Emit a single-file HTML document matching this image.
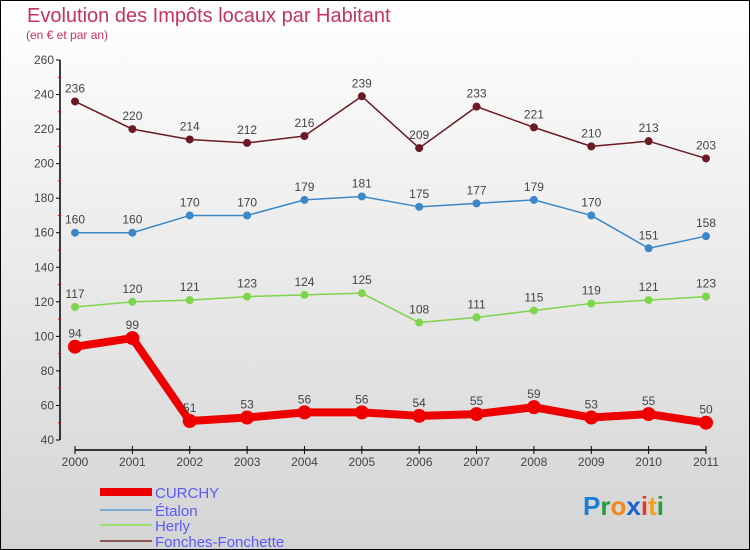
<!DOCTYPE html>
<html><head><meta charset="utf-8"><style>
body{margin:0}
#c{width:750px;height:550px;position:relative;overflow:hidden;font-family:"Liberation Sans",sans-serif}
</style></head><body>
<div id="c">
<svg id="s" width="750" height="550" xmlns="http://www.w3.org/2000/svg">
<defs><linearGradient id="bg" x1="0" y1="0" x2="0" y2="1"><stop offset="0" stop-color="#ffffff"/><stop offset="1" stop-color="#d4d4d4"/></linearGradient></defs>
<rect x="0" y="0" width="750" height="550" fill="url(#bg)" stroke="#000" stroke-width="2"/>
<text x="27" y="22" font-size="20" fill="#c8325f">Evolution des Impôts locaux par Habitant</text>
<text x="26" y="39" font-size="12" fill="#c8325f">(en € et par an)</text>
<g id="axes"></g><g id="series"></g><g id="legend"></g>
<g font-size="26" font-weight="bold" font-family="'Liberation Sans',sans-serif">
<text x="583" y="515"><tspan fill="#1a7fd4">P</tspan><tspan fill="#2a9a3a">r</tspan><tspan fill="#f08a1a">o</tspan><tspan fill="#1a5fd4">x</tspan><tspan fill="#e03a2a">i</tspan><tspan fill="#f0a01a">t</tspan><tspan fill="#2a9a3a">i</tspan></text>
</g>
</svg></div>
<script>
const years=["2000","2001","2002","2003","2004","2005","2006","2007","2008","2009","2010","2011"];
const curchy=[94,99,51,53,56,56,54,55,59,53,55,50];
const etalon=[160,160,170,170,179,181,175,177,179,170,151,158];
const herly=[117,120,121,123,124,125,108,111,115,119,121,123];
const fonches=[236,220,214,212,216,239,209,233,221,210,213,203];
const yTicks=[40,60,80,100,120,140,160,180,200,220,240,260];
const NS="http://www.w3.org/2000/svg";
const X=i=>75+i*(706-75)/11;
const Y=v=>440-(v-40)*(380/220);
function mk(t,a,p){const e=document.createElementNS(NS,t);for(const k in a)e.setAttribute(k,a[k]);p.appendChild(e);return e;}
const ax=document.getElementById('axes');
const yl=mk('line',{x1:60,y1:Y(260),x2:60,y2:Y(40),stroke:'#000','stroke-width':1.5},ax);


yTicks.forEach(v=>{
 mk('line',{x1:56,x2:60,y1:Y(v),y2:Y(v),stroke:'#000'},ax);
 const t=mk('text',{x:54,y:Y(v)+4,'text-anchor':'end','font-size':12,fill:'#444'},ax);
 t.textContent=v;
 
 
 if(v<260)mk('line',{x1:58,x2:61,y1:Y(v+10),y2:Y(v+10),stroke:'#e00'},ax);
});
const xl=mk('line',{x1:X(0),y1:450,x2:X(11),y2:450,stroke:'#000','stroke-width':1.5},ax);


years.forEach((y,i)=>{
 mk('line',{x1:X(i),x2:X(i),y1:446,y2:454,stroke:'#000'},ax);
 const t=mk('text',{x:X(i),y:466,'text-anchor':'middle','font-size':12,fill:'#444'},ax);
 t.textContent=y;
 
 
});
const sg=document.getElementById('series');
function series(d,col,w,r,name){
 const g=mk('g',{},sg);
 
 
 const pl=mk('polyline',{points:d.map((v,i)=>X(i)+','+Y(v)).join(' '),fill:'none',stroke:col,'stroke-width':w,'stroke-linejoin':'round'},g);
 
 
 d.forEach((v,i)=>{
  const c=mk('circle',{cx:X(i),cy:Y(v),r:r,fill:col},g);
  
  
  const t=mk('text',{x:X(i),y:Y(v)-9,'text-anchor':'middle','font-size':12,fill:'#444'},g);
  t.textContent=v;
  
  
 });
}
series(fonches,'#6b1a24',1.5,4,'fonches-fonchette');
series(etalon,'#3b88c8',1.5,4,'etalon');
series(herly,'#7ed44a',1.5,4,'herly');
series(curchy,'#ee0000',8,7,'curchy');
const lg=document.getElementById('legend');
[['CURCHY','#ee0000',8,492],['Étalon','#7aaad0',2,510],['Herly','#9ee070',2,525],['Fonches-Fonchette','#8a5a5a',2,541]].forEach(([n,c,w,y])=>{
 const g=mk('g',{},lg);
 
 
 mk('line',{x1:100,x2:152,y1:y,y2:y,stroke:c,'stroke-width':w},g);
 const t=mk('text',{x:155,y:y+6,'font-size':15,fill:'#5a5aff'},g);
 t.textContent=n;
});
</script>
</body></html>
